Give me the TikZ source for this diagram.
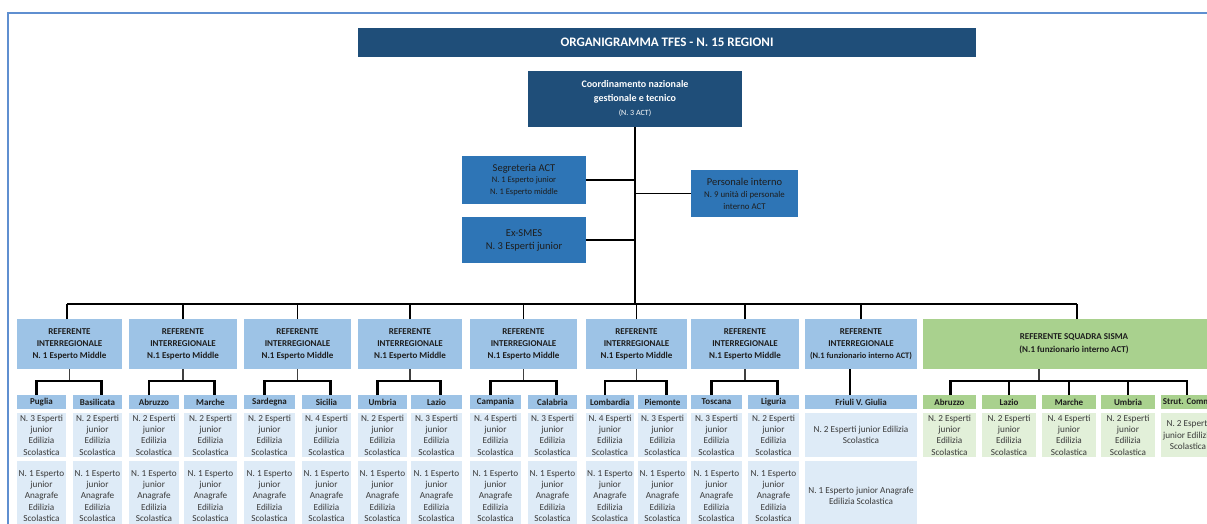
\documentclass[tikz,border=0pt]{standalone}
\usepackage{fontspec}
\setmainfont{Carlito}
\usetikzlibrary{calc}
\definecolor{navy}{HTML}{1F4E79}
\definecolor{midblue}{HTML}{2E75B6}
\definecolor{ltblue}{HTML}{9DC3E6}
\definecolor{paleblue}{HTML}{DEEBF7}
\definecolor{grn}{HTML}{A9D18E}
\definecolor{palegrn}{HTML}{E2F0D9}
\definecolor{framecol}{HTML}{5F8FD0}
\definecolor{txt}{HTML}{1E1E1E}
\definecolor{dtxt}{HTML}{3A3A3A}

\newcommand{\bx}[7]{%
 \pgfmathsetmacro{\bxcx}{(#2+#4)/2}%
 \pgfmathsetmacro{\bxcy}{(#3+#5)/2}%
 \pgfmathsetmacro{\bxw}{#4-#2}%
 \pgfmathsetmacro{\bxh}{#5-#3}%
 \node[#6, minimum width=\bxw pt, minimum height=\bxh pt] (#1) at (\bxcx,\bxcy) {#7};}

\begin{document}
\begin{tikzpicture}[x=1pt,y=-1pt,
  box/.style={inner sep=0pt, outer sep=0pt, align=center, text=txt},
  ttl/.style={box, fill=navy, text=white, font=\bfseries\fontsize{13}{15}\selectfont},
  crd/.style={box, fill=navy, text=white, font=\bfseries\fontsize{10}{14}\selectfont},
  mid/.style={box, fill=midblue, text=txt, font=\fontsize{10.5}{13}\selectfont},
  refb/.style={box, fill=ltblue, font=\bfseries\fontsize{9}{12}\selectfont},
  hdr/.style={box, fill=ltblue, font=\bfseries\fontsize{9}{11}\selectfont},
  det/.style={box, fill=paleblue, text=dtxt, font=\fontsize{9.2}{11.4}\selectfont},
  grefb/.style={box, fill=grn, font=\bfseries\fontsize{9}{13}\selectfont},
  ghdr/.style={box, fill=grn, font=\bfseries\fontsize{9}{11}\selectfont},
  gdet/.style={box, fill=palegrn, text=dtxt, font=\fontsize{9.2}{11.4}\selectfont},
  mainline/.style={line width=1.4pt, black},
  stemline/.style={line width=1.3pt, black!75},
  barline/.style={line width=2.4pt, black, line join=miter},
  frameline/.style={line width=2.2pt, framecol}]
\useasboundingbox (0,0) rectangle (1207,524);
\clip (0,0) rectangle (1207,524);
\fill[white] (0,0) rectangle (1207,524);
\draw[frameline] (8.3,540) -- (8.3,13) -- (1220,13);

% top levels
\bx{title}{358}{28}{976}{57}{ttl}{ORGANIGRAMMA TFES - N. 15 REGIONI}
\bx{coord}{528}{71}{742}{127}{crd}{Coordinamento nazionale\\gestionale e tecnico\\{\mdseries\fontsize{8}{12}\selectfont (N. 3 ACT)}}
\bx{seg}{462}{156}{586}{204}{mid}{Segreteria ACT\\[-1.5pt]{\fontsize{8.5}{12}\selectfont N. 1 Esperto junior}\\[-1.5pt]{\fontsize{8.5}{12}\selectfont N. 1 Esperto middle}}
\bx{exs}{462}{217}{586}{263}{mid}{Ex-SMES\\N. 3 Esperti junior}
\bx{pers}{691}{170}{798}{217}{mid}{Personale interno\\[-1pt]{\fontsize{8.8}{12.5}\selectfont N. 9 unità di personale}\\[-1pt]{\fontsize{8.8}{12.5}\selectfont interno ACT}}

% referents
\foreach \id/\xa/\xb/\lab in {r1/17/122/{N. 1 Esperto Middle}, r2/129/237/{N.1 Esperto Middle}, r3/244/351/{N.1 Esperto Middle}, r4/358/462/{N.1 Esperto Middle}, r5/470/577/{N.1 Esperto Middle}, r6/586/687/{N.1 Esperto Middle}, r7/691/799/{N.1 Esperto Middle}}{
  \bx{\id}{\xa}{319}{\xb}{369}{refb}{REFERENTE\\INTERREGIONALE\\\lab}
}
\bx{r8}{805}{319}{917}{369}{refb}{REFERENTE\\INTERREGIONALE\\{\fontsize{8.4}{12}\selectfont (N.1 funzionario interno ACT)}}
\bx{rg}{923}{319}{1225}{369}{grefb}{REFERENTE SQUADRA SISMA\\(N.1 funzionario interno ACT)}

% regions
\foreach \id/\xa/\xb/\reg/\nn in {pu/17/66/Puglia/3, ba/73/122/Basilicata/2, ab/129/179/Abruzzo/2, ma/184/237/Marche/2, sa/244/295/Sardegna/2, si/302/351/Sicilia/4, um/358/407/Umbria/2, la/411/462/Lazio/3, ca/470/521/Campania/4, cl/528/577/Calabria/3, lo/586/634/Lombardia/4, pi/638/687/Piemonte/3, to/691/742/Toscana/3, li/748/799/Liguria/2}{
  \bx{h\id}{\xa}{395}{\xb}{409}{hdr}{\reg}
  \bx{d\id}{\xa}{413}{\xb}{457}{det}{N. \nn\ Esperti\\junior\\Edilizia\\Scolastica}
  \bx{e\id}{\xa}{461}{\xb}{531}{det}{N. 1 Esperto\\junior\\Anagrafe\\Edilizia\\Scolastica}
}
\bx{hfr}{805}{395}{917}{409}{hdr}{Friuli V. Giulia}
\bx{dfr}{805}{413}{917}{457}{det}{N. 2 Esperti junior Edilizia\\Scolastica}
\bx{efr}{805}{461}{917}{531}{det}{N. 1 Esperto junior Anagrafe\\Edilizia Scolastica}

% green regions
\foreach \id/\xa/\xb/\reg/\nn in {gab/923/976/Abruzzo/2, gla/982/1036/Lazio/2, gma/1042/1096/Marche/4, gum/1101/1155/Umbria/2}{
  \bx{h\id}{\xa}{395}{\xb}{409}{ghdr}{\reg}
  \bx{d\id}{\xa}{413}{\xb}{457}{gdet}{N. \nn\ Esperti\\junior\\Edilizia\\Scolastica}
}
\bx{hgst}{1161}{395}{1215}{409}{ghdr}{Strut. Comm.}
\bx{dgst}{1161}{413}{1215}{457}{gdet}{N. 2 Esperti\\junior Edilizia\\Scolastica}

% connectors
\coordinate (bus) at (0,304);
\coordinate (sub) at (0,381);
\draw[mainline] (coord.south) -- (coord.south |- bus);
\draw[mainline] (seg.east) -- (seg.east -| coord.south);
\draw[mainline] (exs.east) -- (exs.east -| coord.south);
\draw[mainline] (pers.west) -- (pers.west -| coord.south);
\draw[mainline] ([xshift=-2.5]r1.north |- bus) -- ([xshift=3]rg.north |- bus);
\draw[mainline] ([xshift=-2.5]r1.north) -- ([xshift=-2.5]r1.north |- bus);
\foreach \r in {r2,r3,r4,r5,r6,r7,r8}{
  \draw[mainline] (\r.north) -- (\r.north |- bus);
}
\draw[mainline] ([xshift=3]rg.north) -- ([xshift=3]rg.north |- bus);

\foreach \r/\l/\rr in {r1/pu/ba, r2/ab/ma, r3/sa/si, r4/um/la, r5/ca/cl, r6/lo/pi, r7/to/li}{
  \draw[stemline] (\r.south) -- (\r.south |- sub);
  \draw[barline] ([xshift=-5]h\l.north) -- ([xshift=-5]h\l.north |- sub) -- ([xshift=4]h\rr.north |- sub) -- ([xshift=4]h\rr.north);
}
\draw[barline] ([xshift=-11]r8.south) -- ([xshift=-11]hfr.north);
\draw[stemline] ([xshift=-35]rg.south) -- ([xshift=-35]rg.south |- sub);
\draw[barline] ([xshift=1]hgab.north) -- ([xshift=1]hgab.north |- sub) -- ([xshift=-1]hgst.north |- sub) -- ([xshift=-1]hgst.north);
\foreach \g in {gla,gma,gum}{
  \draw[barline] (h\g.north) -- (h\g.north |- sub);
}
\end{tikzpicture}
\end{document}
